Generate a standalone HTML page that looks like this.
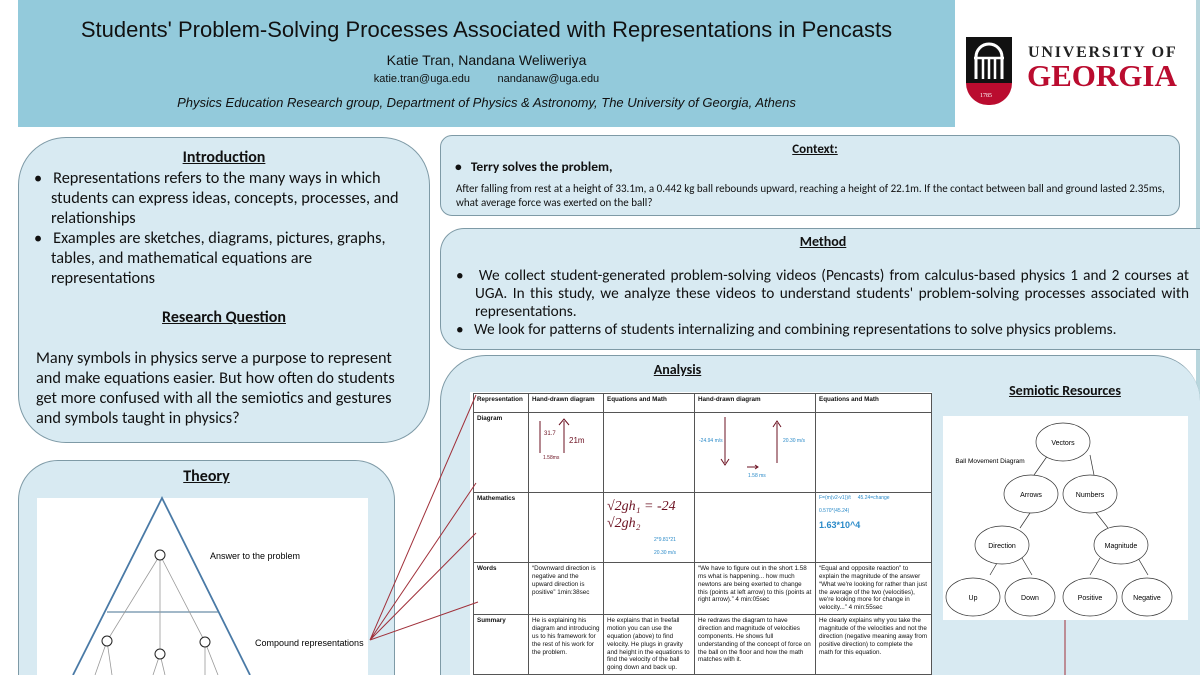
<!DOCTYPE html>
<html><head><meta charset="utf-8"><style>
*{margin:0;padding:0;box-sizing:border-box}
html,body{width:1200px;height:675px;overflow:hidden}
body{background:#fff;position:relative;font-family:"Carlito","Liberation Sans",sans-serif;color:#111}
#wrap{position:absolute;left:0;top:0;width:1200px;height:675px;overflow:hidden}
.abs{position:absolute}
.box{position:absolute;background:#d8eaf2;border:1px solid #7e9aa6}
.cut{border-bottom:none}
.h{font-weight:bold;text-decoration:underline;text-align:center}
table{border-collapse:collapse;font-family:"Liberation Sans",sans-serif;font-size:6.3px;line-height:1.25}
td{border:1px solid #555;vertical-align:top;padding:2px 3px}
.ar{font-family:"Liberation Sans",sans-serif}
</style></head><body><div id="wrap">
<div class="abs" style="left:18px;top:0;width:937px;height:127px;background:#93cadb"></div>
<div class="abs ar" style="left:18px;top:17px;width:937px;text-align:center;font-size:22px">Students' Problem-Solving Processes Associated with Representations in Pencasts</div>
<div class="abs ar" style="left:18px;top:52px;width:937px;text-align:center;font-size:14px">Katie Tran, Nandana Weliweriya</div>
<div class="abs ar" style="left:18px;top:73px;width:937px;text-align:center;font-size:11px">katie.tran@uga.edu &nbsp; &nbsp; &nbsp; &nbsp; nandanaw@uga.edu</div>
<div class="abs ar" style="left:18px;top:95px;width:937px;text-align:center;font-size:13px;font-style:italic">Physics Education Research group, Department of Physics &amp; Astronomy, The University of Georgia, Athens</div>
<!-- logo -->
<div class="abs" style="left:966px;top:37px;width:46px;height:46px;background:#111"></div>
<div class="abs" style="left:966px;top:83px;width:46px;height:22px;background:#ba0c2f;border-radius:0 0 23px 23px"></div>
<svg class="abs" style="left:966px;top:37px" width="46" height="46"><path d="M10 42V20a13 13 0 0 1 26 0v22" stroke="#fff" stroke-width="3" fill="none"/><path d="M17 42V22M23 42V22M29 42V22M8 21h30" stroke="#fff" stroke-width="2.5"/></svg>
<div class="abs" style="left:980px;top:93px;font-size:6px;color:#fff;font-family:'Liberation Serif',serif">1785</div>
<div class="abs" style="left:1028px;top:44px;font-family:'Liberation Serif',serif;font-weight:bold;font-size:16px;letter-spacing:1.8px;color:#222">UNIVERSITY OF</div>
<div class="abs" style="left:1027px;top:58px;font-family:'Liberation Serif',serif;font-weight:bold;font-size:31px;color:#ba0c2f">GEORGIA</div>
<div class="abs" style="left:1196px;top:0;width:4px;height:675px;background:#b8d6dd"></div>

<!-- Introduction -->
<div class="box" style="left:18px;top:137px;width:412px;height:306px;border-radius:48px"></div>
<div class="abs h" style="left:18px;top:148px;width:412px;font-size:16px">Introduction</div>
<div class="abs" style="left:34px;top:168px;width:378px;font-size:16.3px;line-height:20px">
<div style="padding-left:17px;text-indent:-17px">•&nbsp;&nbsp; Representations refers to the many ways in which students can express ideas, concepts, processes, and relationships</div>
<div style="padding-left:17px;text-indent:-17px">•&nbsp;&nbsp; Examples are sketches, diagrams, pictures, graphs, tables, and mathematical equations are representations</div></div>
<div class="abs h" style="left:18px;top:308px;width:412px;font-size:16px">Research Question</div>
<div class="abs" style="left:36px;top:348px;width:372px;font-size:16.3px;line-height:20px">Many symbols in physics serve a purpose to represent and make equations easier. But how often do students get more confused with all the semiotics and gestures and symbols taught in physics?</div>

<!-- Theory -->
<div class="box cut" style="left:18px;top:460px;width:377px;height:215px;border-radius:40px 40px 0 0"></div>
<div class="abs h" style="left:18px;top:467px;width:377px;font-size:16px">Theory</div>
<div class="abs" style="left:37px;top:498px;width:331px;height:177px;background:#fff"></div>
<svg class="abs" style="left:0;top:0" width="1200" height="675">
<g fill="none">
<path d="M73 675L162 498L250 675" stroke="#4a7aa6" stroke-width="1.8"/>
<path d="M107 612H218" stroke="#6a8ea8" stroke-width="1.2"/>
<path d="M160 555L107 641M160 555L160 654M160 555L205 642M107 641L95 675M107 641L112 675M160 654L153 675M160 654L165 675M205 642L205 675M205 642L218 675" stroke="#999" stroke-width="0.8"/>
<circle cx="160" cy="555" r="5" stroke="#222" fill="#fff"/><circle cx="107" cy="641" r="5" stroke="#222" fill="#fff"/><circle cx="160" cy="654" r="5" stroke="#222" fill="#fff"/><circle cx="205" cy="642" r="5" stroke="#222" fill="#fff"/>
</g>
<text x="210" y="559" font-family="Liberation Sans" font-size="9">Answer to the problem</text>
<text x="255" y="646" font-family="Liberation Sans" font-size="9">Compound representations</text>
</svg>

<!-- Context -->
<div class="box" style="left:440px;top:135px;width:740px;height:81px;border-radius:12px"></div>
<div class="abs h" style="left:440px;top:142px;width:750px;font-size:13px">Context:</div>
<div class="abs" style="left:455px;top:158px;font-size:13.5px;font-weight:bold">•&nbsp;&nbsp; Terry solves the problem,</div>
<div class="abs" style="left:456px;top:182px;width:730px;font-size:11px;line-height:14px">After falling from rest at a height of 33.1m, a 0.442 kg ball rebounds upward, reaching a height of 22.1m. If the contact between ball and ground lasted 2.35ms, what average force was exerted on the ball?</div>

<!-- Method -->
<div class="box" style="left:440px;top:228px;width:760px;height:122px;border-radius:24px 0 0 24px;border-right:none"></div>
<div class="abs h" style="left:440px;top:233px;width:766px;font-size:14px">Method</div>
<div class="abs" style="left:456px;top:267px;width:733px;font-size:15.3px;line-height:18px;text-align:justify">
<div style="padding-left:19px;text-indent:-19px">•&nbsp;&nbsp; We collect student-generated problem-solving videos (Pencasts) from calculus-based physics 1 and 2 courses at UGA. In this study, we analyze these videos to understand students' problem-solving processes associated with representations.</div>
<div style="padding-left:19px;text-indent:-19px;text-align:left">•&nbsp;&nbsp; We look for patterns of students internalizing and combining representations to solve physics problems.</div></div>

<!-- Analysis -->
<div class="box cut" style="left:440px;top:355px;width:760px;height:320px;border-radius:46px 46px 0 0;border-right:none"></div>
<div class="abs h" style="left:440px;top:361px;width:475px;font-size:14px">Analysis</div>
<div class="abs h" style="left:940px;top:382px;width:250px;font-size:14px">Semiotic Resources</div>
<div class="abs" style="left:470px;top:392px;width:462px;height:283px;background:#fff"></div>
<table class="abs" style="left:473px;top:393px;width:459px">
<tr style="height:19px;font-weight:bold"><td style="width:55px">Representation</td><td style="width:75px">Hand-drawn diagram</td><td style="width:91px">Equations and Math</td><td style="width:121px">Hand-drawn diagram</td><td>Equations and Math</td></tr>
<tr style="height:80px"><td><b>Diagram</b></td><td style="position:relative"><svg width="70" height="70" style="position:absolute;left:2px;top:2px"><path d="M9 6V38M33 6V38M28 10L33 4L38 10" stroke="#6b1020" fill="none"/><text x="13" y="20" font-size="6" fill="#6b1020">31.7</text><text x="38" y="28" font-size="8" fill="#6b1020">21m</text><text x="12" y="44" font-size="5" fill="#6b1020">1.58ms</text></svg></td><td></td><td style="position:relative"><svg width="118" height="76" style="position:absolute;left:0;top:0"><path d="M30 4V50M82 50V10M78 14L82 8L86 14M26 46L30 52L34 46M52 54H63M60 52L63 54L60 56" stroke="#6b1020" fill="none"/><text x="4" y="29" font-size="5" fill="#2a8ac8">-24.94 m/s</text><text x="88" y="29" font-size="5" fill="#2a8ac8">20.30 m/s</text><text x="53" y="64" font-size="5" fill="#2a8ac8">1.58 ms</text></svg></td><td></td></tr>
<tr style="height:70px"><td><b>Mathematics</b></td><td></td><td style="position:relative"><div style="position:absolute;left:3px;top:5px;font-size:14px;color:#6b1020;font-family:'Liberation Serif',serif;font-style:italic;line-height:17px">√2gh₁ = -24<br>√2gh₂</div><div style="position:absolute;left:50px;top:44px;color:#2a8ac8;font-size:5px">2*9.81*21<br><br>20.30 m/s</div></td><td></td><td style="color:#2a8ac8;font-size:5px">F=(m(v2-v1))/t &nbsp; &nbsp; 45.24=change<br><br>0.570*(45.24)<br><br><span style="font-size:9px;font-weight:bold">1.63*10^4</span></td></tr>
<tr style="height:50px"><td><b>Words</b></td><td>“Downward direction is negative and the upward direction is positive” 1min:38sec</td><td></td><td>“We have to figure out in the short 1.58 ms what is happening... how much newtons are being exerted to change this (points at left arrow) to this (points at right arrow).” 4 min:05sec</td><td>“Equal and opposite reaction” to explain the magnitude of the answer “What we're looking for rather than just the average of the two (velocities), we're looking more for change in velocity...” 4 min:55sec</td></tr>
<tr style="height:58px"><td><b>Summary</b></td><td>He is explaining his diagram and introducing us to his framework for the rest of his work for the problem.</td><td>He explains that in freefall motion you can use the equation (above) to find velocity. He plugs in gravity and height in the equations to find the velocity of the ball going down and back up.</td><td>He redraws the diagram to have direction and magnitude of velocities components. He shows full understanding of the concept of force on the ball on the floor and how the math matches with it.</td><td>He clearly explains why you take the magnitude of the velocities and not the direction (negative meaning away from positive direction) to complete the math for this equation.</td></tr>
</table>

<div class="abs" style="left:943px;top:416px;width:245px;height:204px;background:#fff"></div>
<svg class="abs" style="left:0;top:0" width="1200" height="675" font-family="Liberation Sans" font-size="7" text-anchor="middle">
<g stroke="#333" stroke-width="0.7" fill="#fff">
<path d="M1048 455L1034 475M1090 455L1094 475M1032 510L1020 528M1094 510L1108 528M1000 558L990 575M1022 558L1032 575M1100 558L1090 575M1138 558L1148 575" fill="none"/>
<ellipse cx="1063" cy="442" rx="27" ry="19"/>
<ellipse cx="1031" cy="494" rx="27" ry="19"/><ellipse cx="1090" cy="494" rx="27" ry="19"/>
<ellipse cx="1002" cy="545" rx="27" ry="19"/><ellipse cx="1121" cy="545" rx="27" ry="19"/>
<ellipse cx="973" cy="597" rx="27" ry="19"/><ellipse cx="1030" cy="597" rx="25" ry="19"/><ellipse cx="1090" cy="597" rx="27" ry="19"/><ellipse cx="1147" cy="597" rx="25" ry="19"/>
</g>
<text x="1063" y="445">Vectors</text><text x="990" y="463" font-size="6.5">Ball Movement Diagram</text>
<text x="1031" y="497">Arrows</text><text x="1090" y="497">Numbers</text>
<text x="1002" y="548">Direction</text><text x="1121" y="548">Magnitude</text>
<text x="973" y="600">Up</text><text x="1030" y="600">Down</text><text x="1090" y="600">Positive</text><text x="1147" y="600">Negative</text>
<g stroke="#a0303a" stroke-width="1" fill="none">
<path d="M370 640L476 395M370 640L476 483M370 640L476 533M370 640L478 602M1065 620V675"/>
</g>
</svg>
</div></body></html>
